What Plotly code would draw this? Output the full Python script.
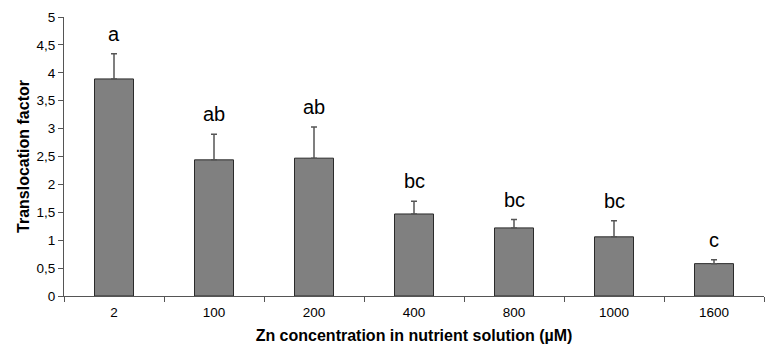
import plotly.graph_objects as go

categories = ["2", "100", "200", "400", "800", "1000", "1600"]
values = [3.89, 2.44, 2.47, 1.47, 1.22, 1.06, 0.58]
errors = [0.45, 0.46, 0.56, 0.23, 0.15, 0.29, 0.07]
letters = ["a", "ab", "ab", "bc", "bc", "bc", "c"]
y_ticks = [0, 0.5, 1, 1.5, 2, 2.5, 3, 3.5, 4, 4.5, 5]
y_tick_labels = ["0", "0,5", "1", "1,5", "2", "2,5", "3", "3,5", "4", "4,5", "5"]

fig = go.Figure()
fig.add_trace(go.Bar(
    x=categories, y=values, width=0.39,
    marker=dict(color="#808080", line=dict(color="#2a2a2a", width=1)),
    error_y=dict(type="data", array=errors, arrayminus=[0] * len(errors),
                 symmetric=False, color="#555555", thickness=1.5, width=3),
))

for i, (v, e, t) in enumerate(zip(values, errors, letters)):
    fig.add_annotation(x=i, y=v + e, xref="x", yref="y", text=t, showarrow=False,
                       yanchor="bottom", yshift=7,
                       font=dict(family="Arial, Liberation Sans", size=20, color="black"))

fig.update_layout(
    width=766, height=347,
    margin=dict(l=64, r=2, t=17, b=51),
    plot_bgcolor="white", paper_bgcolor="white",
    showlegend=False,
    font=dict(family="Arial, Liberation Sans", size=13, color="black"),
)
fig.update_xaxes(
    type="category", categoryorder="array", categoryarray=categories,
    range=[-0.5, len(categories) - 0.5], autorange=False,
    tickson="boundaries", ticks="outside", ticklen=5, ticklabelstandoff=4,
    tickcolor="#555555", showline=True, linecolor="#555555", linewidth=1,
    showgrid=False, tickfont=dict(size=13.5),
    title=dict(text="<b>Zn concentration in nutrient solution (µM)</b>",
               font=dict(size=16), standoff=10),
)
fig.update_yaxes(
    range=[0, 5], autorange=False, tickvals=y_ticks, ticktext=y_tick_labels,
    ticks="outside", ticklen=5, tickcolor="#555555",
    showline=True, linecolor="#555555", linewidth=1,
    showgrid=False, zeroline=False, tickfont=dict(size=13.5),
    title=dict(text="<b>Translocation factor</b>", font=dict(size=16), standoff=2),
)

fig.write_html("out.html")
